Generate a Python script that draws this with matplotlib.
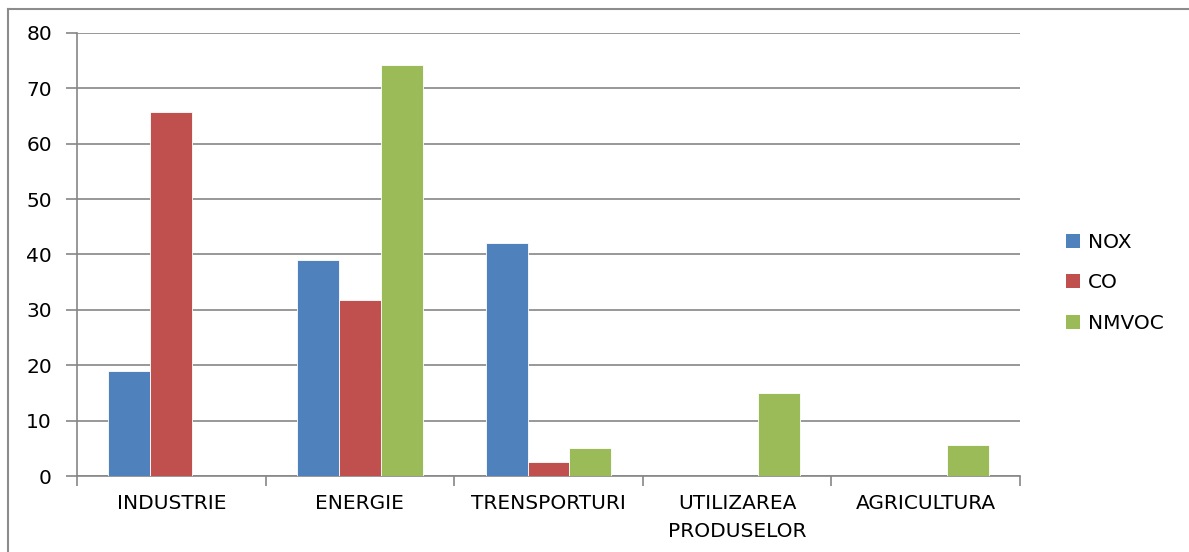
import matplotlib

matplotlib.use("Agg")
import matplotlib.pyplot as plt
import numpy as np
from matplotlib.lines import Line2D
from matplotlib.patches import Patch

CATEGORIES = ["INDUSTRIE", "ENERGIE", "TRENSPORTURI", "UTILIZAREA\nPRODUSELOR", "AGRICULTURA"]
NOX = [19.0, 39.0, 42.0, 0, 0]
CO = [65.7, 31.8, 2.5, 0, 0]
NMVOC = [0, 74.2, 5.1, 15.0, 5.6]
SERIES = ["NOX", "CO", "NMVOC"]
COLOURS = ["#4f81bd", "#c0504d", "#9bbb59"]

FS = 14.5
plt.rcParams.update({"font.family": ["DejaVu Sans"], "font.size": FS})

W, H = 1189, 552
fig = plt.figure(figsize=(W / 100, H / 100), dpi=100)
ax = fig.add_axes([77 / W, 1 - 476 / H, (1020 - 77) / W, (476 - 33) / H])

x = np.arange(len(CATEGORIES))
bw = 1 / 4.5
for i, (vals, col) in enumerate(zip((NOX, CO, NMVOC), COLOURS)):
    ax.bar(x + (i - 1) * bw, vals, width=bw, color=col, edgecolor="white",
           linewidth=0.6, zorder=3)

ax.set_xlim(-0.5, len(CATEGORIES) - 0.5)
ax.set_ylim(0, 80)
ax.set_yticks(range(0, 81, 10))
ax.yaxis.grid(True, color="#868686", linewidth=1.2, zorder=0)
ax.set_axisbelow(True)

ax.set_xticks(x)
ax.set_xticklabels(CATEGORIES, linespacing=1.6)
ax.tick_params(axis="x", length=0, pad=13)
ax.set_xticks(np.arange(-0.5, len(CATEGORIES)), minor=True)
ax.tick_params(axis="x", which="minor", length=7, width=1.2, color="#868686", direction="out")
ax.tick_params(axis="y", length=8, width=1.2, color="#868686", pad=10)

for s in ("top", "right"):
    ax.spines[s].set_visible(False)
for s in ("left", "bottom"):
    ax.spines[s].set_color("#868686")
    ax.spines[s].set_linewidth(1.2)

handles = [Patch(facecolor=c, edgecolor="none") for c in COLOURS]
fig.legend(handles, SERIES, loc="center left", bbox_to_anchor=(1048 / W, 1 - 283 / H),
           frameon=False, handlelength=0.7, handleheight=0.7, handletextpad=0.4,
           labelspacing=1.05, fontsize=FS)

# outer chart border
fig.add_artist(Line2D([8 / W, 1], [1 - 9 / H, 1 - 9 / H], color="#8c8c8c", linewidth=1.5))
fig.add_artist(Line2D([8 / W, 8 / W], [0, 1 - 9 / H], color="#8c8c8c", linewidth=1.5))

fig.savefig("out.png", dpi=100)
